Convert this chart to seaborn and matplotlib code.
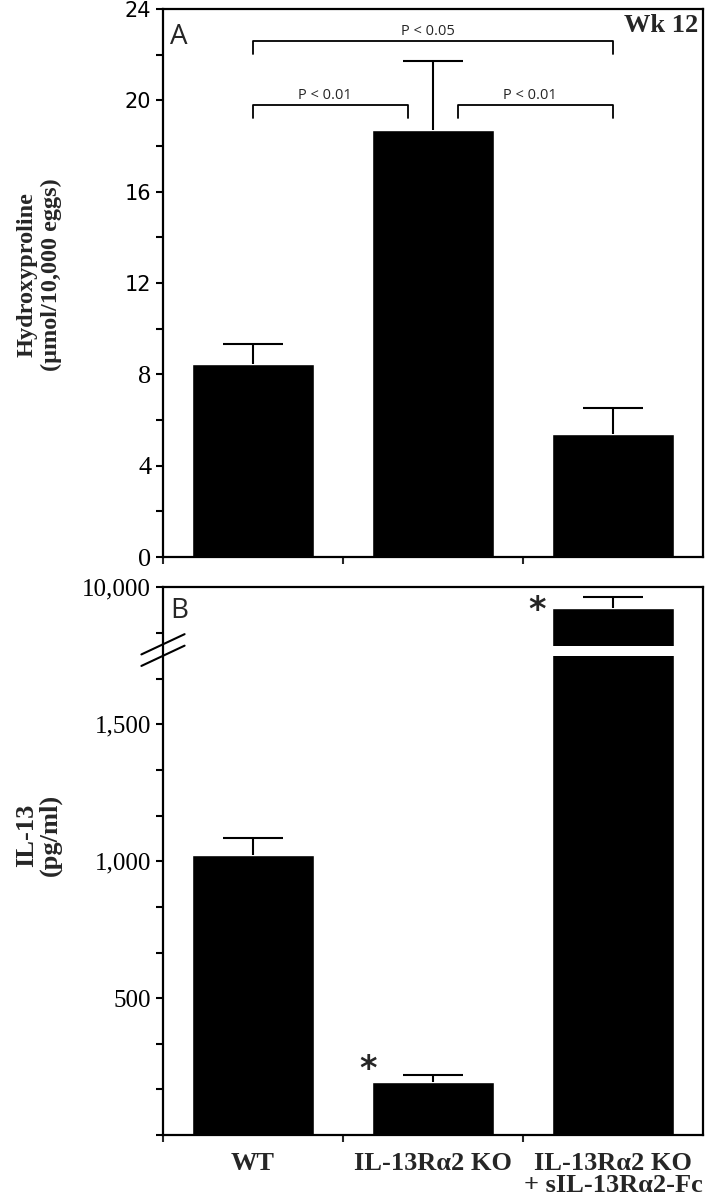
import numpy as np
import pandas as pd
import matplotlib.pyplot as plt
import seaborn as sns

# data
groups = ['WT', 'IL-13Rα2 KO', 'IL-13Rα2 KO\n+ sIL-13Rα2-Fc']
hyp_mean = [8.44, 18.70, 5.39]
hyp_err = [0.87, 3.02, 1.14]
il13_mean = [1022, 193, 9290]
il13_err = [62, 26, 370]

# significance brackets for panel A: (left x, right x, height, label)
brackets = [(0, 2, 22.6, 'P < 0.05'),
            (0, 0.86, 19.8, 'P < 0.01'),
            (1.14, 2, 19.8, 'P < 0.01')]

# broken y axis for panel B
LOW_TOP, HIGH_BOT = 1750, 8000
GAP, K = 36.5, 0.1078


def squash(v):
    v = np.asarray(v, float)
    return np.where(v <= LOW_TOP, v,
                    np.where(v <= HIGH_BOT,
                             LOW_TOP + (v - LOW_TOP) * GAP / (HIGH_BOT - LOW_TOP),
                             LOW_TOP + GAP + (v - HIGH_BOT) * K))


def unsquash(y):
    y = np.asarray(y, float)
    return np.where(y <= LOW_TOP, y,
                    np.where(y <= LOW_TOP + GAP,
                             LOW_TOP + (y - LOW_TOP) * (HIGH_BOT - LOW_TOP) / GAP,
                             HIGH_BOT + (y - LOW_TOP - GAP) / K))


def draw_errors(ax, means, errs):
    # upper error bars only, cap of fixed width
    x = np.arange(len(means))
    tops = np.asarray(means) + np.asarray(errs)
    ax.vlines(x, means, tops, color='black', lw=1.5, zorder=3)
    ax.hlines(tops, x - 0.167, x + 0.167, color='black', lw=1.5, zorder=3)


sns.set_theme(style='ticks')
plt.rcParams['font.family'] = ['Liberation Serif', 'DejaVu Serif']

fig = plt.figure(figsize=(7.05, 11.99), dpi=100)
axA = fig.add_axes([0.2312, 0.5354, 0.766, 0.457])
axB = fig.add_axes([0.2312, 0.0534, 0.766, 0.457])

dfA = pd.DataFrame({'group': groups, 'value': hyp_mean})
dfB = pd.DataFrame({'group': groups, 'value': il13_mean})

for ax in (axA, axB):
    for s in ax.spines.values():
        s.set_color('black')
        s.set_linewidth(1.6)

# ---- panel A
sns.barplot(data=dfA, x='group', y='value', color='black', saturation=1,
            width=0.68, errorbar=None, ax=axA)
draw_errors(axA, hyp_mean, hyp_err)
axA.set_xlim(-0.5, 2.5)
axA.set_ylim(0, 24)
axA.set_yticks(np.arange(0, 25, 4))
axA.set_yticks(np.arange(2, 24, 4), minor=True)
axA.tick_params(axis='y', which='both', direction='out', length=5, width=1.5,
                colors='black', labelsize=19)
for lab in axA.get_yticklabels():
    if lab.get_text() in ('12', '16', '20', '24'):
        lab.set_family(['DejaVu Sans'])
        lab.set_fontsize(15)
axA.set_xticks(range(3))
axA.set_xticklabels([])
axA.set_xticks([-0.5, 0.5, 1.5], minor=True)
axA.tick_params(axis='x', which='major', length=0)
axA.tick_params(axis='x', which='minor', direction='out', length=5, width=1.5)
axA.set_xlabel('')
axA.set_ylabel('Hydroxyproline\n(μmol/10,000 eggs)', fontsize=17.5,
               fontweight='bold', linespacing=1.2)
axA.yaxis.set_label_coords(-0.187, 0.515)

for x0, x1, h, txt in brackets:
    axA.plot([x0, x0, x1, x1], [h - 0.55, h, h, h - 0.55], color='black', lw=1.3)
    axA.text((x0 + x1) / 2 - 0.03, h + 0.25, txt, ha='center', va='baseline',
             fontsize=10.5, family=['Open Sans', 'DejaVu Sans'])

axA.text(0.013, 0.975, 'A', transform=axA.transAxes, ha='left', va='top',
         fontsize=20, family=['Open Sans', 'DejaVu Sans'])
axA.text(0.991, 0.991, 'Wk 12', transform=axA.transAxes, ha='right', va='top',
         fontsize=19, fontweight='bold')

# ---- panel B (broken axis)
axB.set_yscale('function', functions=(squash, unsquash))
sns.barplot(data=dfB, x='group', y='value', color='black', saturation=1,
            width=0.68, errorbar=None, ax=axB)
draw_errors(axB, il13_mean, il13_err)
axB.axhspan(LOW_TOP, HIGH_BOT, color='white', zorder=2, lw=0)
axB.set_xlim(-0.5, 2.5)
axB.set_ylim(0, 10000)
step = 500 / 3
minor_b = [0, step, 2 * step, 4 * step, 5 * step, 7 * step, 8 * step, 10 * step,
           float(unsquash(11 * step))]
axB.set_yticks([500, 1000, 1500, 10000], ['500', '1,000', '1,500', '10,000'])
axB.set_yticks(minor_b, minor=True)
axB.set_yticklabels([], minor=True)
axB.tick_params(axis='y', which='both', direction='out', length=5, width=1.5,
                colors='black', labelsize=18)
axB.set_xticks(range(3))
axB.set_xticklabels(groups, fontsize=19, fontweight='bold', linespacing=0.95)
axB.set_xticks([-0.5, 0.5, 1.5], minor=True)
axB.tick_params(axis='x', which='major', length=0, pad=12)
axB.tick_params(axis='x', which='minor', direction='out', length=5, width=1.5)
axB.set_xlabel('')
axB.set_ylabel('IL-13\n(pg/ml)', fontsize=19, fontweight='bold', linespacing=1.0)
axB.yaxis.set_label_coords(-0.187, 0.547)

# break marks on the y axis
for dy in (0, -0.021):
    axB.plot([-0.04, 0.04], [0.877 + dy, 0.914 + dy], transform=axB.transAxes,
             color='black', lw=1.5, clip_on=False, zorder=5)

axB.text(0.013, 0.982, 'B', transform=axB.transAxes, ha='left', va='top',
         fontsize=20, family=['Open Sans', 'DejaVu Sans'])

# asterisks
for i, dx, off in ((1, -0.36, 4), (2, -0.42, -10)):
    axB.annotate('*', (i + dx, il13_mean[i] + il13_err[i]), xytext=(0, off),
                 textcoords='offset points', ha='center', va='center',
                 fontsize=24, fontweight='bold', family=['DejaVu Sans'])

fig.savefig('out.png', dpi=100)
